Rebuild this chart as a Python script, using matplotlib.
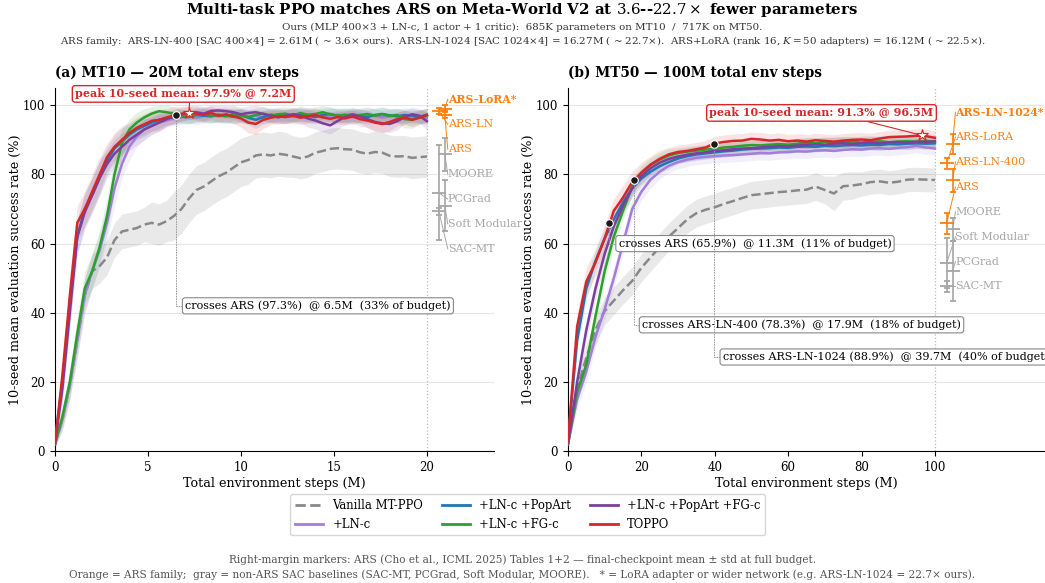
import numpy as np
import matplotlib
matplotlib.use("Agg")
import matplotlib.pyplot as plt
from matplotlib.lines import Line2D

plt.rcParams['font.family'] = ['DejaVu Serif']
plt.rcParams['mathtext.fontset'] = 'dejavuserif'

# ---- MT10 curves (10-seed mean, %), eval every 0.4M steps
mt10_steps = np.linspace(0.0, 20.0, 51)
mt10_vanilla = [2, 9, 19, 32, 45, 52, 53.5, 56, 61, 63.5, 64, 64.5, 65.5, 66, 65.5, 66.5, 68, 70, 73, 75.5,
                76.5, 78, 79.5, 80.5, 82, 83.5, 84.2, 85.5, 85.8, 85.5, 86, 85.7, 85.2, 84.7, 85.2, 86.3, 86.8,
                87.4, 87.6, 87.3, 87.2, 86.4, 86.0, 86.5, 86.3, 85.4, 85.2, 85.3, 84.8, 85.0, 85.2]
mt10_lnc = [2, 9, 19, 32, 45, 52, 58, 66, 76, 83, 88, 91, 93, 94.2, 95, 95.6, 96.2, 96.5, 96.8, 96.4, 96.9,
            97.2, 96.8, 97.0, 96.6, 97.1, 96.8, 97.0, 96.5, 96.9, 97.3, 96.9, 96.6, 97.0, 97.4, 97.0, 96.6,
            97.0, 97.3, 96.8, 96.5, 96.9, 97.3, 96.9, 96.5, 96.8, 97.1, 96.7, 96.3, 96.8, 96.4]
mt10_popart = [3, 20, 42, 62, 70, 74, 79, 84, 87.5, 89.5, 91.5, 93, 94, 95, 95.8, 96.3, 96.5, 96.8, 96.6,
               97.2, 97.0, 96.8, 97.3, 97.0, 96.8, 97.2, 96.4, 95.8, 96.6, 97.3, 97.0, 96.7, 97.3, 97.4, 97.0,
               96.6, 97.2, 97.5, 96.9, 97.1, 97.4, 97.0, 96.6, 97.2, 97.5, 97.1, 96.8, 97.2, 97.0, 96.7, 97.3]
mt10_fgc = [2, 10, 20, 34, 47, 52, 59, 68, 80, 89, 93, 95, 96.5, 97.6, 98.3, 98.0, 97.6, 97.0, 96.8, 97.2,
            97.5, 97.0, 97.2, 96.8, 97.5, 97.0, 96.6, 97.2, 97.6, 97.0, 97.4, 97.6, 97.0, 97.8, 97.2, 97.5,
            98.0, 97.4, 97.0, 97.3, 96.8, 97.2, 97.5, 97.0, 97.4, 96.9, 97.2, 96.0, 95.8, 96.6, 97.0]
mt10_popart_fgc = [2, 18, 40, 62, 69, 74, 79, 83, 86, 88, 90, 91.5, 93, 94, 95, 96, 96.8, 97.5, 97.8, 98.0,
                   97.6, 98.4, 98.5, 98.3, 98.0, 97.4, 97.8, 98.0, 97.5, 97.0, 96.5, 97.0, 97.4, 97.0, 96.2,
                   95.6, 94.8, 94.2, 95.5, 96.6, 97.2, 96.8, 96.0, 95.2, 94.8, 94.6, 95.4, 96.6, 97.4, 97.0, 95.4]
mt10_toppo = [2, 22, 45, 66, 70, 75, 80, 85, 88, 90, 92, 93.5, 94.5, 95.5, 95.8, 96.5, 97.1, 97.5, 97.9,
              97.6, 97.3, 97.8, 97.0, 97.4, 96.8, 96.2, 95.0, 94.6, 95.8, 96.4, 96.8, 96.6, 97.0, 96.4, 96.8,
              97.2, 96.5, 96.1, 96.6, 96.2, 96.8, 96.0, 95.6, 95.0, 94.6, 95.2, 96.0, 96.5, 95.8, 96.4, 97.2]

# std across seeds
mt10_vanilla_sd = [1, 3, 4, 5, 5, 5, 5, 5, 5, 5, 5, 5, 5, 6, 6, 6, 7, 7, 7, 7, 7, 7, 7, 7, 7, 7, 7, 6.5, 6.5,
                   6.5, 6.5, 6.5, 6, 6, 6, 6, 6, 6, 6, 6, 6, 6, 6, 6, 6, 6, 6, 6, 6, 6, 6]
mt10_lnc_sd = [1, 3, 4, 5, 5, 5, 5, 5, 5, 4, 4, 3, 3, 2.5, 2.5, 2, 2, 2, 2, 2, 2, 2, 2, 2, 2, 2, 2, 2, 2, 2, 2,
               2, 2, 2, 2, 2, 2, 2, 2, 2, 2, 2, 2, 2, 2, 2, 2, 2, 2, 2, 2]
mt10_popart_sd = [1, 4, 5, 5, 5, 5, 5, 4, 4, 4, 3, 3, 3, 2.5, 2.5, 2, 2, 2, 2, 2, 2, 2, 2, 2, 2, 2, 2, 2.5, 2,
                  2, 2, 2, 2, 2, 2, 2, 2, 2, 2, 2, 2, 2, 2, 2, 2, 2, 2, 2, 2, 2, 2]
mt10_fgc_sd = [1, 3, 4, 5, 5, 5, 5, 5, 5, 4, 3, 3, 2.5, 2, 2, 2, 2, 2, 2, 2, 2, 2, 2, 2, 2, 2, 2, 2, 2, 2, 2,
               2, 2, 2, 2, 2, 2, 2, 2, 2, 2, 2, 2, 2, 2, 2, 2, 2.5, 2.5, 2, 2]
mt10_popart_fgc_sd = [1, 4, 5, 5, 5, 5, 5, 4, 4, 4, 3, 3, 3, 2.5, 2.5, 2, 2, 2, 2, 2, 2, 2, 2, 2, 2, 2, 2, 2,
                      2, 2, 2, 2, 2, 2, 2.5, 2.5, 2.5, 2.5, 2.5, 2, 2, 2, 2.5, 2.5, 2.5, 2.5, 2.5, 2, 2, 2, 2.5]
mt10_toppo_sd = [1, 4, 5, 5, 5, 5, 5, 4, 4, 4, 3, 3, 3, 3, 3, 2.5, 2.5, 2, 2, 2, 2, 2, 2, 2, 2, 2.5, 3, 3, 2.5,
                 2, 2, 2, 2, 2, 2, 2, 2, 2, 2, 2, 2, 2, 2, 2.5, 2.5, 2.5, 2, 2, 2, 2, 2]

# ---- MT50 curves, eval every 2.5M steps
mt50_steps = np.linspace(0.0, 100.0, 41)
mt50_vanilla = [2, 18, 27, 35, 40.5, 43.5, 46.5, 49.2, 53, 56, 59, 62, 64.5, 67, 68.8, 69.8, 70.5, 71.5, 72.3,
                73.2, 74, 74.3, 74.6, 74.9, 75.1, 75.4, 75.6, 76.5, 75.5, 74.5, 76.6, 76.8, 77.2, 77.8, 78.0,
                77.6, 77.9, 78.5, 78.6, 78.5, 78.4]
mt50_lnc = [2, 15, 23, 33, 41, 50, 60, 70, 75, 78.5, 80.8, 82.5, 83.6, 84.3, 84.8, 85.1, 85.3, 85.5, 85.6,
            85.8, 86.0, 86.2, 86.1, 86.4, 86.5, 86.7, 86.6, 86.9, 87.0, 86.8, 87.1, 87.3, 87.2, 87.5, 87.6,
            87.4, 87.7, 87.9, 88.3, 87.8, 87.5]
mt50_popart = [3, 32, 47, 55, 61.5, 67, 72, 76, 78.8, 80.8, 82.4, 83.6, 84.6, 85.3, 85.8, 86.1, 86.4, 86.7,
               86.9, 87.2, 87.4, 87.5, 87.6, 87.8, 87.7, 88.0, 88.1, 88.0, 88.3, 88.2, 88.4, 88.5, 88.4, 88.6,
               88.5, 88.8, 88.7, 88.9, 89.0, 88.9, 89.0]
mt50_fgc = [2, 17, 25, 39, 52, 62, 69.5, 76.5, 80.5, 82.8, 84.3, 85.5, 86.2, 86.6, 86.9, 87.2, 87.4, 87.8,
            88.0, 88.3, 88.5, 88.4, 88.6, 88.8, 88.6, 88.9, 89.2, 89.0, 89.4, 89.2, 89.3, 89.5, 89.2, 89.4,
            89.6, 89.3, 89.5, 89.6, 89.4, 89.7, 89.5]
mt50_popart_fgc = [2, 20, 35, 47, 57, 65, 71, 76, 79.5, 81.8, 83.4, 84.5, 85.2, 85.7, 86.1, 86.4, 86.8, 87.0,
                   87.3, 87.5, 87.6, 87.8, 88.0, 88.2, 88.1, 88.4, 88.5, 88.7, 88.6, 88.9, 89.0, 88.8, 89.1,
                   89.2, 89.0, 89.3, 89.4, 89.2, 89.5, 89.4, 89.6]
mt50_toppo = [3, 36, 49, 54.5, 61.5, 69.5, 73.3, 77.8, 80.5, 82.8, 84.5, 85.8, 86.5, 86.8, 87.3, 87.8, 89.0,
              89.4, 89.7, 89.8, 90.3, 90.1, 89.8, 90.0, 89.6, 89.8, 89.5, 89.9, 89.7, 89.5, 89.8, 90.0, 90.1,
              89.9, 90.4, 90.8, 90.9, 91.0, 91.2, 91.1, 90.6]

mt50_vanilla_sd = [1, 3, 4, 4, 4, 4, 4, 4, 4, 4, 4, 4, 4, 4, 4, 4, 4, 4, 4, 4, 4, 4, 4, 4, 4, 4, 4, 4, 4, 5,
                   4, 4, 3.5, 3.5, 3.5, 3.5, 3.5, 3.5, 3.5, 3.5, 3.5]
mt50_lnc_sd = [1, 3, 3, 3, 3, 3, 3, 3, 2.5, 2.5, 2, 2, 2, 2, 2, 2, 2, 2, 2, 2, 2, 2, 2, 2, 2, 2, 2, 2, 2, 2, 2,
               2, 2, 2, 2, 2, 2, 2, 2, 2, 2]
mt50_popart_sd = [1, 3, 3, 3, 3, 2.5, 2.5, 2.5, 2, 2, 2, 2, 1.5, 1.5, 1.5, 1.5, 1.5, 1.5, 1.5, 1.5, 1.5, 1.5,
                  1.5, 1.5, 1.5, 1.5, 1.5, 1.5, 1.5, 1.5, 1.5, 1.5, 1.5, 1.5, 1.5, 1.5, 1.5, 1.5, 1.5, 1.5, 1.5]
mt50_fgc_sd = [1, 3, 3, 3, 3, 3, 2.5, 2.5, 2, 2, 2, 2, 1.5, 1.5, 1.5, 1.5, 1.5, 1.5, 1.5, 1.5, 1.5, 1.5, 1.5,
               1.5, 1.5, 1.5, 1.5, 1.5, 1.5, 1.5, 1.5, 1.5, 1.5, 1.5, 1.5, 1.5, 1.5, 1.5, 1.5, 1.5, 1.5]
mt50_popart_fgc_sd = [1, 3, 3, 3, 3, 3, 2.5, 2.5, 2, 2, 2, 2, 2, 2, 2, 2, 2, 2, 2, 2, 2, 2, 2, 2, 2, 2, 2, 2,
                      2, 2, 2, 2, 2, 2, 2, 2, 2, 2, 2, 2, 2]
mt50_toppo_sd = [1, 4, 4, 4, 4, 3.5, 3.5, 3, 3, 2.5, 2.5, 2, 2, 2, 2, 2, 2, 2, 2, 2, 2, 2, 2, 2, 2, 2, 2, 2, 2,
                 2, 2, 2, 2, 2, 2, 2, 2, 2, 2, 2, 2]

# ---- ARS paper reference numbers (final checkpoint mean / std), ARS family first
mt10_ars_names = ['ARS-LoRA*', 'ARS-LN', 'ARS']
mt10_ars_mean = [99.0, 98.4, 97.3]
mt10_ars_std = [1.0, 0.9, 1.1]
mt10_base_names = ['MOORE', 'PCGrad', 'Soft Modular', 'SAC-MT']
mt10_base_mean = [85.8, 74.7, 71.0, 69.4]
mt10_base_std = [4.8, 13.8, 7.4, 1.0]

mt50_ars_names = ['ARS-LN-1024*', 'ARS-LoRA', 'ARS-LN-400', 'ARS']
mt50_ars_mean = [88.9, 83.2, 78.3, 65.9]
mt50_ars_std = [2.9, 1.7, 3.4, 3.0]
mt50_base_names = ['MOORE', 'Soft Modular', 'PCGrad', 'SAC-MT']
mt50_base_mean = [64.1, 54.4, 52.0, 47.6]
mt50_base_std = [3.4, 7.3, 8.7, 1.5]

# crossing points marked on the TOPPO curve: (label, value, step)
mt10_cross = [('ARS', 97.3, 6.5)]
mt50_cross = [('ARS', 65.9, 11.3), ('ARS-LN-400', 78.3, 17.9), ('ARS-LN-1024', 88.9, 39.7)]
mt10_peak = (97.9, 7.2)
mt50_peak = (91.3, 96.5)

labels = ['Vanilla MT-PPO', '+LN-c', '+LN-c +PopArt', '+LN-c +FG-c', '+LN-c +PopArt +FG-c', 'TOPPO']
colors = ['#888888', '#a27ddb', '#1f77b4', '#2ca02c', '#7b3f9e', '#d62728']
ORANGE = '#ff7f0e'
GRAY = '#a6a6a6'

fig = plt.figure(figsize=(10.45, 5.83), dpi=100)
ax1 = fig.add_axes([0.0526, 0.2264, 0.420, 0.6226])
ax2 = fig.add_axes([0.5435, 0.2264, 0.4565, 0.6226])


def draw_curves(ax, steps, means, sds):
    for lab, col, m, s in zip(labels, colors, means, sds):
        m = np.asarray(m, float)
        s = np.asarray(s, float)
        ax.fill_between(steps, m - s, np.minimum(m + s, 100), color=col,
                        alpha=0.13 if lab != 'Vanilla MT-PPO' else 0.18, lw=0, zorder=1)
        ls = '--' if lab == 'Vanilla MT-PPO' else '-'
        ax.plot(steps, m, color=col, lw=1.8, ls=ls, zorder=3 if lab != 'TOPPO' else 4, label=lab)


def draw_refs(ax, names, means, stds, budget, gap, cap):
    # right-margin errorbars; x alternates within each group
    xs = []
    cols = []
    for grp, col in ((0, ORANGE), (1, GRAY)):
        k = 0
        for nm in names:
            if nm.startswith('ARS') == (grp == 0):
                xs.append(budget * (1.048 if k % 2 == 0 else 1.032))
                cols.append(col)
                k += 1
    n = len(names)
    # labels spread bottom-up, then pushed down under the cap
    ly = [0.0] * n
    prev = -1e9
    for i in range(n - 1, -1, -1):
        ly[i] = max(means[i], prev + gap)
        prev = ly[i]
    prev = cap + gap
    for i in range(n):
        ly[i] = min(ly[i], prev - gap)
        prev = ly[i]
    tx = budget * 1.056
    for i in range(n):
        col = cols[i]
        ax.errorbar(xs[i], means[i], yerr=stds[i], fmt='_', color=col, ms=10, mew=1.3,
                    elinewidth=1.2, capsize=2.5, capthick=1.0, zorder=5, clip_on=False)
        ax.plot([xs[i], tx], [means[i], ly[i]], color=col, lw=0.7, zorder=4, clip_on=False)
        star = names[i].endswith('*')
        ax.text(tx, ly[i], names[i], color=col, fontsize=7.8 if star else 8, va='center', ha='left',
                fontweight='bold' if star else 'normal', zorder=6)


def style(ax, xmax, xticks, budget):
    ax.set_xlim(0, xmax)
    ax.set_ylim(0, 105)
    ax.set_xticks(xticks)
    ax.set_yticks([0, 20, 40, 60, 80, 100])
    ax.spines['top'].set_visible(False)
    ax.spines['right'].set_visible(False)
    ax.grid(axis='y', color='#e6e6e6', lw=0.8, zorder=0)
    ax.set_axisbelow(True)
    ax.axvline(budget, color='#bbbbbb', ls=':', lw=0.9, zorder=1)
    ax.tick_params(labelsize=8.5)
    ax.set_xlabel('Total environment steps (M)', fontsize=9.2, labelpad=2)
    ax.set_ylabel('10-seed mean evaluation success rate (%)', fontsize=9.2, labelpad=1)


def mark_crossings(ax, crosses, budget, text_pos):
    for (name, val, step), (tx, ty) in zip(crosses, text_pos):
        ax.plot(step, val, 'o', color='#1a1a1a', mec='white', mew=0.8, ms=5.5, zorder=7)
        pct = int(100.0 * step / budget + 0.5)
        ax.annotate('crosses %s (%.1f%%)  @ %.1fM  (%d%% of budget)' % (name, val, step, pct),
                    xy=(step, val), xytext=(tx, ty), fontsize=8, ha='left', va='center', zorder=8,
                    bbox=dict(boxstyle='round,pad=0.25', fc='white', ec='#888888', lw=0.8),
                    arrowprops=dict(arrowstyle='-', color='#999999', lw=0.7, ls=':',
                                    connectionstyle='angle,angleA=0,angleB=90,rad=0',
                                    shrinkA=0, shrinkB=3))


def mark_peak(ax, peak, text_pos, rel):
    val, step = peak
    ax.plot(step, val, marker='*', color='white', mec='#d62728', mew=0.8, ms=9, zorder=9)
    ax.annotate('peak 10-seed mean: %.1f%% @ %.1fM' % (val, step), xy=(step, val), xytext=text_pos,
                fontsize=8, fontweight='bold', color='#d62728', ha='center', va='center', zorder=9,
                bbox=dict(boxstyle='round,pad=0.25', fc='white', ec='#d62728', lw=1.0),
                arrowprops=dict(arrowstyle='-', color='#d62728', lw=0.8, relpos=(rel, 0.0),
                                shrinkA=0, shrinkB=3))


# (a) MT10
draw_curves(ax1, mt10_steps,
            [mt10_vanilla, mt10_lnc, mt10_popart, mt10_fgc, mt10_popart_fgc, mt10_toppo],
            [mt10_vanilla_sd, mt10_lnc_sd, mt10_popart_sd, mt10_fgc_sd, mt10_popart_fgc_sd, mt10_toppo_sd])
style(ax1, 23.6, [0, 5, 10, 15, 20], 20)
draw_refs(ax1, mt10_ars_names + mt10_base_names, mt10_ars_mean + mt10_base_mean,
          mt10_ars_std + mt10_base_std, 20, 7.2, 101.7)
mark_crossings(ax1, mt10_cross, 20, [(7.0, 42.0)])
mark_peak(ax1, mt10_peak, (6.9, 103.3), 0.53)
ax1.set_title('(a) MT10 — 20M total env steps', loc='left', fontsize=9.8, fontweight='bold', pad=8)

# (b) MT50
draw_curves(ax2, mt50_steps,
            [mt50_vanilla, mt50_lnc, mt50_popart, mt50_fgc, mt50_popart_fgc, mt50_toppo],
            [mt50_vanilla_sd, mt50_lnc_sd, mt50_popart_sd, mt50_fgc_sd, mt50_popart_fgc_sd, mt50_toppo_sd])
style(ax2, 130, [0, 20, 40, 60, 80, 100], 100)
draw_refs(ax2, mt50_ars_names + mt50_base_names, mt50_ars_mean + mt50_base_mean,
          mt50_ars_std + mt50_base_std, 100, 7.2, 101.7)
mark_crossings(ax2, mt50_cross, 100, [(13.8, 60.0), (20.2, 36.5), (42.2, 27.2)])
mark_peak(ax2, mt50_peak, (69.1, 97.8), 0.65)
ax2.set_title('(b) MT50 — 100M total env steps', loc='left', fontsize=9.8, fontweight='bold', pad=8)

# header
fig.text(0.5, 0.983, r'Multi-task PPO matches ARS on Meta-World V2 at $3.6$--$22.7\times$ fewer parameters',
         ha='center', va='center', fontsize=10.8, fontweight='bold')
fig.text(0.5, 0.953, 'Ours (MLP 400×3 + LN-c, 1 actor + 1 critic):  685K parameters on MT10  /  717K on MT50.',
         ha='center', va='center', fontsize=7.4, color='#333333')
fig.text(0.5, 0.929, 'ARS family:  ARS-LN-400 [SAC 400×4] = 2.61M ( ~ 3.6× ours).  '
         'ARS-LN-1024 [SAC 1024×4] = 16.27M ( ~ 22.7×).  ARS+LoRA (rank 16, $K=50$ adapters) = 16.12M ( ~ 22.5×).',
         ha='center', va='center', fontsize=7.4, color='#333333')

handles = [Line2D([0], [0], color=c, lw=2, ls='--' if l == 'Vanilla MT-PPO' else '-') for l, c in zip(labels, colors)]
fig.legend(handles, labels, loc='center', bbox_to_anchor=(0.505, 0.117), ncol=3, fontsize=8.4,
           frameon=True, edgecolor='#cccccc', handlelength=2.4, columnspacing=1.6)

fig.text(0.5, 0.04, 'Right-margin markers: ARS (Cho et al., ICML 2025) Tables 1+2 — final-checkpoint mean ± std at full budget.',
         ha='center', va='center', fontsize=7.6, color='#555555')
fig.text(0.5, 0.014, 'Orange = ARS family;  gray = non-ARS SAC baselines (SAC-MT, PCGrad, Soft Modular, MOORE).   '
         '* = LoRA adapter or wider network (e.g. ARS-LN-1024 = 22.7× ours).',
         ha='center', va='center', fontsize=7.6, color='#555555')

fig.savefig('out.png', dpi=100)
